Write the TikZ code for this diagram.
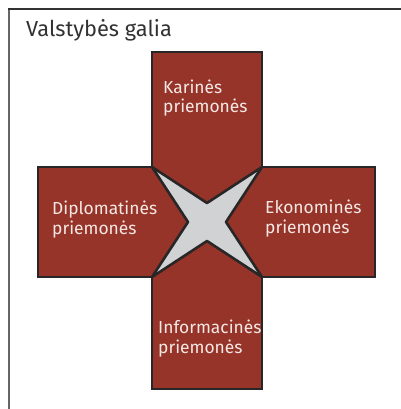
\documentclass[tikz,border=0pt]{standalone}
\usepackage{fontspec}
\setmainfont{Fira Sans}
\definecolor{armred}{RGB}{150,52,42}
\definecolor{edge}{RGB}{40,38,38}
\definecolor{stargrey}{RGB}{209,210,212}
\definecolor{lbl}{RGB}{245,232,228}
\definecolor{titlec}{RGB}{50,50,50}
\begin{document}
\begin{tikzpicture}[x=1pt,y=-1pt,
  armlabel/.style={anchor=base west,inner sep=0pt,align=left,text=lbl,font=\fontsize{17.4}{19.8}\selectfont},
  outline/.style={draw=edge,line width=2.6pt}]
\useasboundingbox (0,0) rectangle (400,409);
% frame
\draw[draw=gray!80!black,line width=1.6pt] (9,410) -- (9,9);
\draw[draw=titlec,line width=1.8pt] (8.2,9) -- (401,9);
\node[anchor=base west,inner sep=0pt,text=titlec,font=\fontsize{21.8}{26}\selectfont] (title) at (26,37) {Valstybės galia};
% cross
\draw[outline,fill=armred,line join=miter] (152,52) -- (262,52) -- (262,167) -- (375,167) -- (375,277) -- (262,277) -- (262,389) -- (152,389) -- (152,277) -- (38,277) -- (38,167) -- (152,167) -- cycle;
% star
\draw[outline,fill=stargrey,line join=round] (152,167) -- (207,203) -- (262,167) -- (226,222) -- (262,277) -- (207,241) -- (152,277) -- (188,222) -- cycle;
% labels (anchor = baseline of the last line)
\node[armlabel] (kar) at (163,113) {Karinės\\priemonės};
\node[armlabel] (dip) at (52,234) {Diplomatinės\\priemonės};
\node[armlabel] (eko) at (265,233) {Ekonominės\\priemonės};
\node[armlabel] (inf) at (158,353) {Informacinės\\priemonės};
\end{tikzpicture}
\end{document}
